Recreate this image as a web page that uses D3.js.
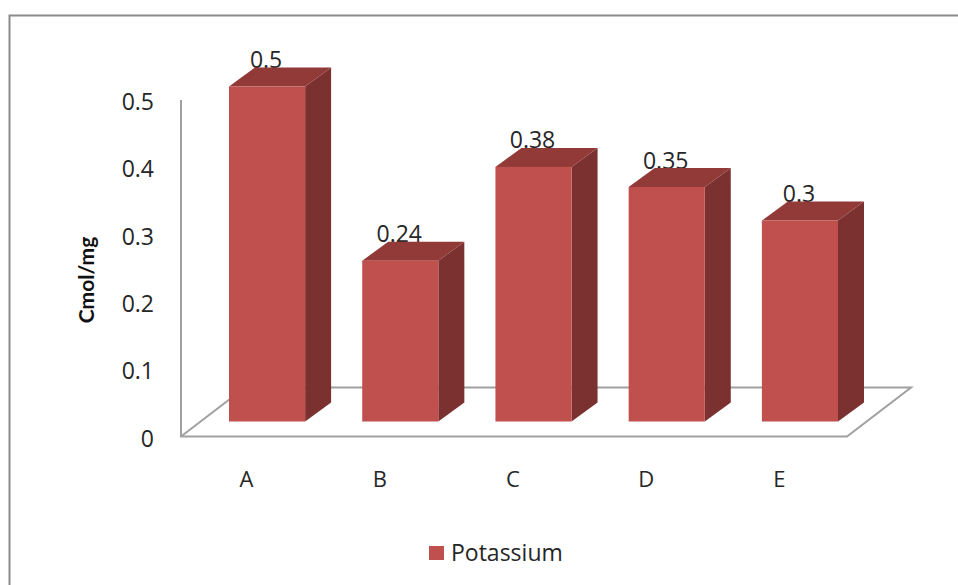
<!DOCTYPE html>
<html><head><meta charset="utf-8">
<script src="https://cdn.jsdelivr.net/npm/d3@7"></script>
<style>html,body{margin:0;background:#fff}svg{display:block}</style></head>
<body><div id="c"></div>
<script>
const categories = ["A","B","C","D","E"];
const potassium = [0.5,0.24,0.38,0.35,0.3];
const valueLabels = ["0.5","0.24","0.38","0.35","0.3"];
const yTicks = [0,0.1,0.2,0.3,0.4,0.5];
const seriesName = "Potassium";
const axisTitle = "Cmol/mg";

const W=958,H=585;
const svg=d3.select("#c").append("svg").attr("width",W).attr("height",H);
const sans="'Open Sans',sans-serif";
const frameC="#8c8c8c", axisC="#a0a0a0", ink="#262626";
svg.append("path").attr("d",`M9.5,${H}V15.5H${W}`).attr("fill","none").attr("stroke",frameC).attr("stroke-width",2);

const y=d3.scaleLinear().domain([0,0.5]).range([421.5,86.5]);
const yAxisScale=d3.scaleLinear().domain([0,0.5]).range([436.5,100]);
const x=d3.scaleBand().domain(categories).range([229,838]).paddingInner(0.4286).paddingOuter(0);
const dx=26,dy=-19;

// floor
svg.append("path").attr("d","M181,436.5L245,387.5H911L847,436.5H181V100").attr("fill","none").attr("stroke",axisC).attr("stroke-width",2);

const val=(i)=>potassium[i];
// value labels sit behind the bar tops
svg.append("g").selectAll("text").data(categories).join("text")
  .attr("x",d=>x(d)+x.bandwidth()/2-1).attr("y",(d,i)=>y(val(i))+dy+0.5)
  .attr("text-anchor","middle").attr("font-family",sans).attr("font-size",23).attr("fill",ink).text((d,i)=>valueLabels[i]);

const g=svg.append("g").selectAll("g").data(categories).join("g");
g.append("path").attr("fill","#7b3130").attr("d",(d,i)=>{const a=x(d)+x.bandwidth(),t=y(val(i)),b=y(0);return `M${a},${t}l${dx},${dy}V${b+dy}L${a},${b}Z`;});
g.append("path").attr("fill","#913a38").attr("d",(d,i)=>{const l=x(d),a=l+x.bandwidth(),t=y(val(i));return `M${l},${t}l${dx},${dy}H${a+dx}L${a},${t}Z`;});
g.append("rect").attr("fill","#c0504d").attr("x",d=>x(d)).attr("width",x.bandwidth()).attr("y",(d,i)=>y(val(i))).attr("height",(d,i)=>y(0)-y(val(i)));
g.append("text").attr("x",d=>x(d)+x.bandwidth()/2-20.5).attr("y",487).attr("text-anchor","middle").attr("font-family",sans).attr("font-size",22).attr("fill",ink).text(d=>d);

svg.append("g").selectAll("text").data(yTicks).join("text").attr("x",154).attr("y",d=>yAxisScale(d)+10).attr("text-anchor","end").attr("font-family",sans).attr("font-size",23).attr("fill",ink).text(d=>d);

svg.append("text").attr("transform","translate(94,280) rotate(-90)").attr("text-anchor","middle").attr("font-family","Lato,sans-serif").attr("font-weight",700).attr("font-size",21).attr("fill","#111").text(axisTitle);

svg.append("rect").attr("x",429).attr("y",546).attr("width",15).attr("height",14).attr("fill","#c0504d");
svg.append("text").attr("x",451).attr("y",560.5).attr("font-family",sans).attr("font-size",23).attr("fill",ink).text(seriesName);
</script></body></html>
